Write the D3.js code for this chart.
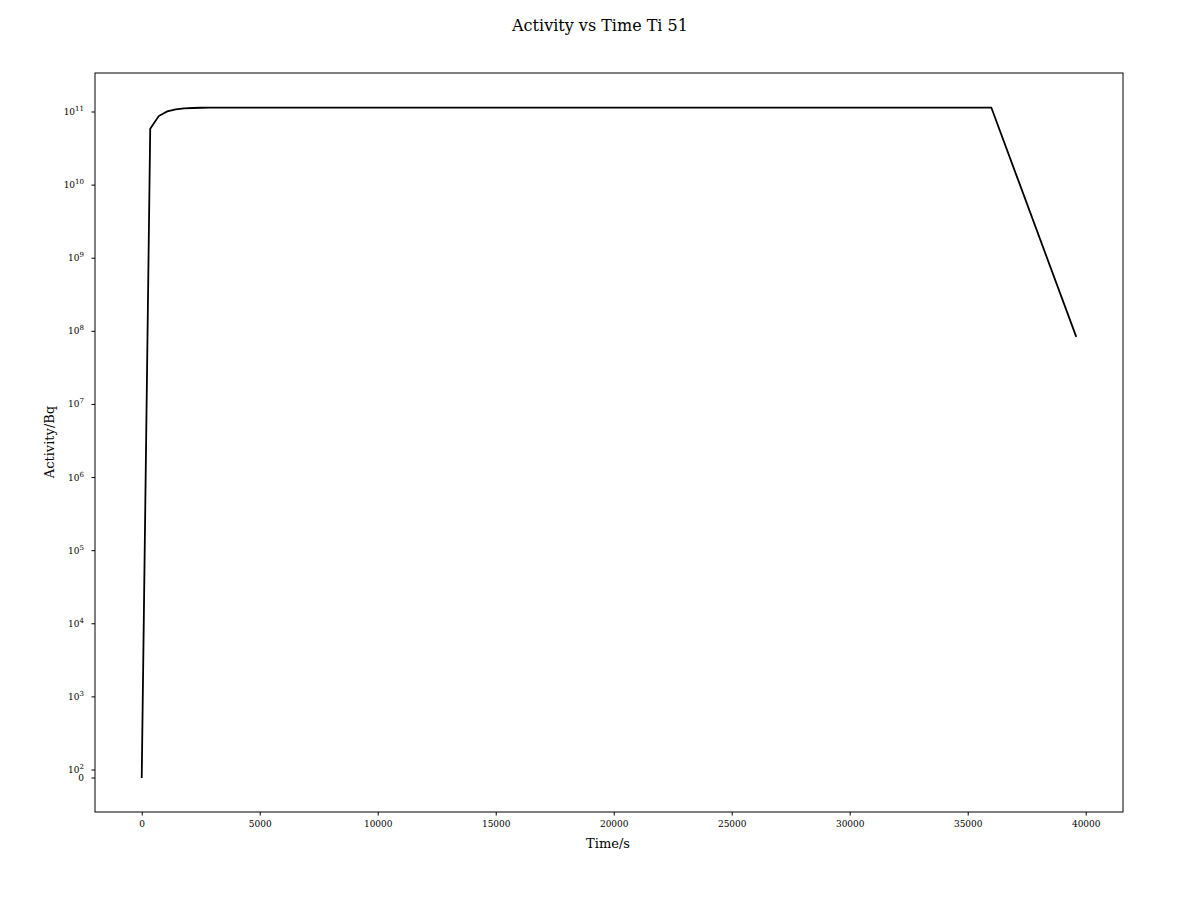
<!DOCTYPE html>
<html><head><meta charset="utf-8">
<script src="https://cdn.jsdelivr.net/npm/d3@7"></script>
<style>body{margin:0;background:#fff}text{font-family:"DejaVu Serif",serif}</style>
</head><body><svg id="c" width="1200" height="900"></svg>
<script>
// activity samples (time in s, activity in Bq)
var times = [0, 360, 720, 1080, 1440, 1800, 2160, 2520, 2880, 3240, 3600, 36000, 39600];
var activity = [0, 5.9e10, 8.8e10, 1.02e11, 1.086e11, 1.119e11, 1.135e11, 1.143e11, 1.1465e11, 1.148e11, 1.149e11, 1.15e11, 8.4e7];
var xTicks = [0, 5000, 10000, 15000, 20000, 25000, 30000, 35000, 40000];
var yExps = [2, 3, 4, 5, 6, 7, 8, 9, 10, 11];

var svg = d3.select("#c");
var L = 95, R = 1123, T = 73, B = 812;

var x = d3.scaleLinear().domain([-1980, 41580]).range([L, R]);
// symlog-like: linear below 100, log above
var yLin = d3.scaleLinear().domain([0, 100]).range([778, 770]);
var yLog = d3.scaleLog().domain([100, 1e11]).range([770, 112]);
function y(v) { return v <= 100 ? yLin(v) : yLog(v); }

svg.append("text").attr("x", 600).attr("y", 31).attr("text-anchor", "middle")
	.attr("font-size", 16).text("Activity vs Time Ti 51");

var xAxis = d3.axisBottom(x).tickValues(xTicks).tickSize(3.5).tickPadding(5)
	.tickFormat(d3.format("d"));
var gx = svg.append("g").attr("transform", "translate(0," + B + ")").call(xAxis);
gx.select(".domain").remove();
gx.selectAll("text").attr("font-size", 9).attr("font-family", "DejaVu Serif");

var gy = svg.append("g");
var yt = [{v: 0, lab: "0"}].concat(yExps.map(function(e) { return {v: Math.pow(10, e), e: e}; }));
yt.forEach(function(d) {
	var py = y(d.v);
	gy.append("line").attr("x1", L - 3.5).attr("x2", L).attr("y1", py).attr("y2", py).attr("stroke", "#000");
	var t = gy.append("text").attr("x", L - 11).attr("y", py + 3).attr("text-anchor", "end").attr("font-size", 9);
	if (d.lab) t.text(d.lab);
	else {
		t.append("tspan").text("10");
		t.append("tspan").attr("dy", -4).attr("font-size", 7).text(d.e);
	}
});

svg.append("rect").attr("x", L).attr("y", T).attr("width", R - L).attr("height", B - T)
	.attr("fill", "none").attr("stroke", "#000");

var line = d3.line().x(function(d) { return x(d[0]); }).y(function(d) { return y(d[1]); });
svg.append("path").datum(d3.zip(times, activity)).attr("d", line)
	.attr("fill", "none").attr("stroke", "#000").attr("stroke-width", 1.8);

svg.append("text").attr("x", 608).attr("y", 848).attr("text-anchor", "middle").attr("font-size", 13).text("Time/s");
svg.append("text").attr("transform", "translate(54,442) rotate(-90)").attr("text-anchor", "middle")
	.attr("font-size", 13).text("Activity/Bq");
</script></body></html>
